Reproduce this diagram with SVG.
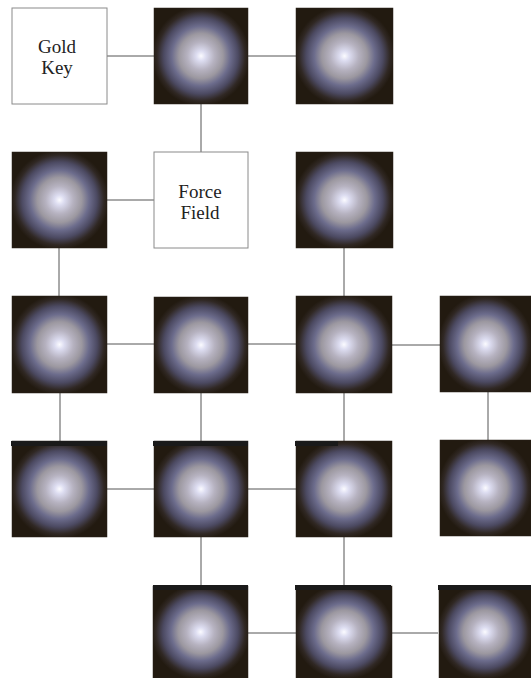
<svg xmlns="http://www.w3.org/2000/svg" width="531" height="678" viewBox="0 0 531 678">
<defs>
<radialGradient id="glow" cx="50%" cy="50%" r="52%">
<stop offset="0" stop-color="#fbfbff"/>
<stop offset="0.1" stop-color="#dcdcf0"/>
<stop offset="0.28" stop-color="#b6b2c0"/>
<stop offset="0.45" stop-color="#9c98a0"/>
<stop offset="0.6" stop-color="#6c6c8c"/>
<stop offset="0.76" stop-color="#4c4a62"/>
<stop offset="0.9" stop-color="#302824"/>
<stop offset="1" stop-color="#221a10"/>
</radialGradient>
<style>
.orb{fill:url(#glow);stroke:#2a2218;stroke-width:0.5}
.box{fill:#fff;stroke:#8a8a8a;stroke-width:1}
.bar{fill:#1a1a1a}
.lbl{font-family:"Liberation Serif","Times New Roman",serif;font-size:19px;fill:#222;text-anchor:middle}
.c{stroke:#555;stroke-width:1;fill:none}
</style>
</defs>
<rect width="531" height="678" fill="#fff"/>
<g id="connectors">
<line class="c" x1="107" y1="56" x2="154" y2="56"/>
<line class="c" x1="248" y1="56" x2="296" y2="56"/>
<line class="c" x1="201" y1="104" x2="201" y2="152"/>
<line class="c" x1="107" y1="200" x2="154" y2="200"/>
<line class="c" x1="59" y1="248" x2="59" y2="296"/>
<line class="c" x1="344" y1="248" x2="344" y2="296"/>
<line class="c" x1="107" y1="344" x2="154" y2="344"/>
<line class="c" x1="248" y1="344" x2="296" y2="344"/>
<line class="c" x1="392" y1="345" x2="440" y2="345"/>
<line class="c" x1="60" y1="393" x2="60" y2="441"/>
<line class="c" x1="201" y1="393" x2="201" y2="441"/>
<line class="c" x1="344" y1="393" x2="344" y2="441"/>
<line class="c" x1="488" y1="392" x2="488" y2="440"/>
<line class="c" x1="107" y1="489" x2="154" y2="489"/>
<line class="c" x1="248" y1="489" x2="296" y2="489"/>
<line class="c" x1="201" y1="537" x2="201" y2="586"/>
<line class="c" x1="344" y1="537" x2="344" y2="586"/>
<line class="c" x1="248" y1="633" x2="296" y2="633"/>
<line class="c" x1="392" y1="633" x2="438" y2="633"/>
</g>
<g id="gold-key"><rect class="box" x="12" y="8" width="95" height="96"/><text class="lbl" x="57" y="53">Gold</text><text class="lbl" x="57" y="74">Key</text></g>
<g id="n-1-0"><rect class="orb" x="154" y="8" width="94" height="96"/></g>
<g id="n-2-0"><rect class="orb" x="296" y="8" width="97" height="96"/></g>
<g id="n-0-1"><rect class="orb" x="12" y="152" width="95" height="96"/></g>
<g id="force-field"><rect class="box" x="154" y="152" width="94" height="96"/><text class="lbl" x="200" y="198">Force</text><text class="lbl" x="200" y="219">Field</text></g>
<g id="n-2-1"><rect class="orb" x="296" y="152" width="97" height="96"/></g>
<g id="n-0-2"><rect class="orb" x="12" y="296" width="95" height="97"/></g>
<g id="n-1-2"><rect class="orb" x="154" y="297" width="94" height="96"/></g>
<g id="n-2-2"><rect class="orb" x="296" y="296" width="96" height="97"/></g>
<g id="n-3-2"><rect class="orb" x="440" y="296" width="91" height="96"/></g>
<g id="n-0-3"><rect class="orb" x="12" y="441" width="95" height="96"/><rect class="bar" x="11" y="441" width="96" height="5"/></g>
<g id="n-1-3"><rect class="orb" x="154" y="441" width="94" height="96"/><rect class="bar" x="153" y="441" width="95" height="5"/></g>
<g id="n-2-3"><rect class="orb" x="296" y="441" width="96" height="96"/><rect class="bar" x="295" y="441" width="43" height="5"/></g>
<g id="n-3-3"><rect class="orb" x="440" y="440" width="91" height="96"/></g>
<g id="n-1-4"><rect class="orb" x="153" y="586" width="95" height="92"/><rect class="bar" x="153" y="585" width="95" height="5"/></g>
<g id="n-2-4"><rect class="orb" x="296" y="586" width="96" height="92"/><rect class="bar" x="295" y="585" width="96" height="5"/></g>
<g id="n-3-4"><rect class="orb" x="439" y="586" width="92" height="92"/><rect class="bar" x="438" y="585" width="93" height="5"/></g>
</svg>
